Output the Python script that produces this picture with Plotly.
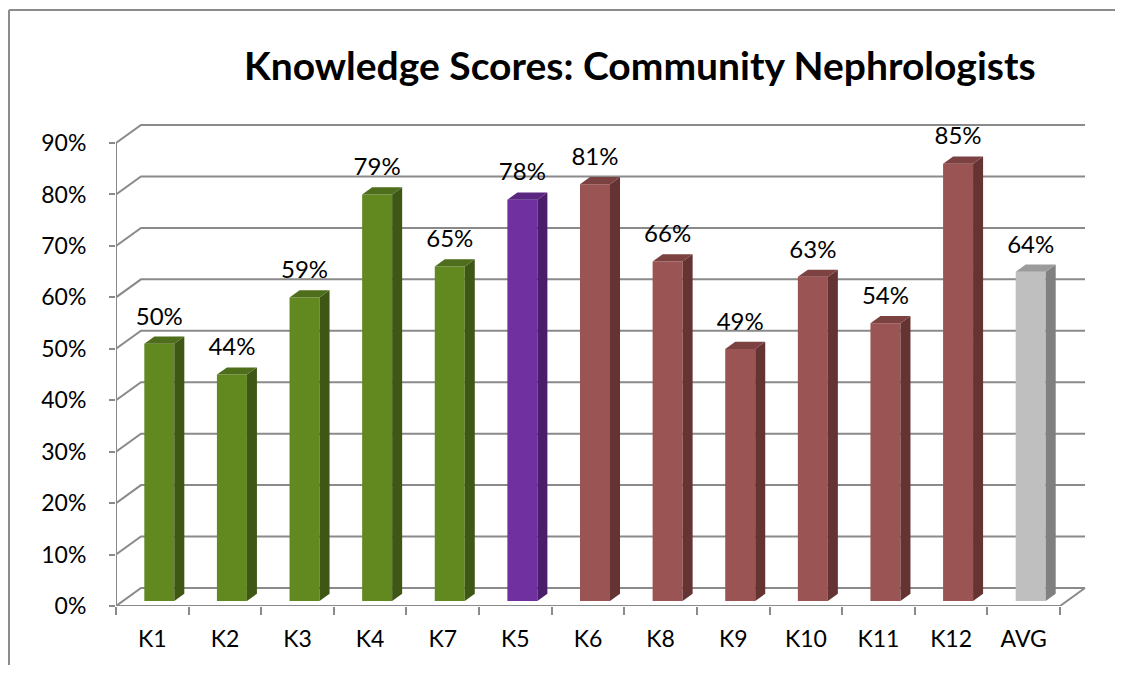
import plotly.graph_objects as go

categories = ["K1", "K2", "K3", "K4", "K7", "K5", "K6", "K8", "K9", "K10", "K11", "K12", "AVG"]
values = [50, 44, 59, 79, 65, 78, 81, 66, 49, 63, 54, 85, 64]
groups = ["g", "g", "g", "g", "g", "p", "r", "r", "r", "r", "r", "r", "a"]
label_text = ["50%", "44%", "59%", "79%", "65%", "78%", "81%", "66%", "49%", "63%", "54%", "85%", "64%"]
y_ticks = [0, 10, 20, 30, 40, 50, 60, 70, 80, 90]
y_ticktext = ["0%", "10%", "20%", "30%", "40%", "50%", "60%", "70%", "80%", "90%"]

front_colors = {"g": "#628920", "p": "#7030A0", "r": "#9A5454", "a": "#BFBFBF"}
top_colors = {"g": "#4F6E1B", "p": "#5A2682", "r": "#7C4141", "a": "#9B9B9B"}
side_colors = {"g": "#3E5715", "p": "#4A1E6A", "r": "#663333", "a": "#808080"}

# 3-D geometry (data units)
DX = 0.344      # depth offset of back wall (categories)
DY = 3.5        # depth offset of back wall (%)
F = 0.28        # depth position of bar front face
BW = 0.413      # bar front width
SDX = 0.138     # bar side depth x
SDY = 1.4       # bar side depth y
GRID = "#8A8A8A"

n = len(categories)
fig = go.Figure()

# gridlines as below-layer shapes
shapes = []
for v in y_ticks:
    shapes.append(dict(type="path", xref="x", yref="y", layer="below",
                       path=f"M 0 {v} L {DX} {v + DY} L {n + DX} {v + DY}",
                       line=dict(color=GRID, width=2)))
shapes.append(dict(type="path", xref="x", yref="y", layer="below",
                   path=f"M 0 0 L {n} 0 L {n + DX} {DY}", line=dict(color=GRID, width=2)))
shapes.append(dict(type="line", xref="x", yref="y", layer="below",
                   x0=0, x1=0, y0=0, y1=y_ticks[-1], line=dict(color=GRID, width=2)))

# bars
for gkey in ["g", "p", "r", "a"]:
    idx = [i for i in range(n) if groups[i] == gkey]
    xc = [i + 0.5 + DX * F for i in idx]
    base = F * DY
    fig.add_trace(go.Bar(x=xc, y=[values[i] for i in idx], base=base, width=BW,
                         marker=dict(color=front_colors[gkey], line=dict(width=0)),
                         showlegend=False, hoverinfo="skip"))
    sx, sy, tx, ty = [], [], [], []
    for i in idx:
        x0 = i + 0.5 + DX * F - BW / 2
        x1 = x0 + BW
        top = values[i] + base
        sx += [x1, x1 + SDX, x1 + SDX, x1, x1, None]
        sy += [base, base + SDY, top + SDY, top, base, None]
        tx += [x0, x1, x1 + SDX, x0 + SDX, x0, None]
        ty += [top, top, top + SDY, top + SDY, top, None]
    fig.add_trace(go.Scatter(x=sx, y=sy, mode="lines", fill="toself", fillcolor=side_colors[gkey],
                             line=dict(width=0, color=side_colors[gkey]), hoverinfo="skip", showlegend=False))
    fig.add_trace(go.Scatter(x=tx, y=ty, mode="lines", fill="toself", fillcolor=top_colors[gkey],
                             line=dict(width=0, color=top_colors[gkey]), hoverinfo="skip", showlegend=False))

# data labels
fig.add_trace(go.Scatter(x=[i + 0.5 + DX * F for i in range(n)],
                         y=[values[i] + F * DY + 4.9 for i in range(n)],
                         mode="text", text=label_text, textposition="middle center",
                         textfont=dict(family="Lato", size=24, color="#000000"),
                         hoverinfo="skip", showlegend=False))

# category tick marks (on xaxis2)
fig.add_trace(go.Scatter(x=[0, n], y=[0, 0], mode="lines", line=dict(width=0),
                         xaxis="x2", hoverinfo="skip", showlegend=False))

OFF = 8  # page body margin (all sides)
W, H = 1123 - 2 * OFF, 673 - 2 * OFF
L = 116 - OFF
T = 115 - OFF
B = (673 - OFF) - 606
R = (1123 - OFF) - 1090
PW, PH = W - L - R, H - T - B
xmax = PW / ((1060 - 116) / n)
ymax = PH / ((606 - 143) / 90)

def px(xr):
    return (xr - 116) / PW

def py(yr):
    return (606 - yr) / PH

shapes += [dict(type="line", xref="paper", yref="paper",
                x0=px(9), x1=px(9), y0=py(10), y1=py(700),
                line=dict(color="#8C8C8C", width=2)),
           dict(type="line", xref="paper", yref="paper",
                x0=px(9), x1=px(1140), y0=py(10), y1=py(10),
                line=dict(color="#8C8C8C", width=2))]

fig.update_layout(
    width=W, height=H,
    margin=dict(l=L, r=R, t=T, b=B, autoexpand=False),
    paper_bgcolor="white", plot_bgcolor="rgba(0,0,0,0)",
    barmode="overlay",
    font=dict(family="Lato", color="#000000"),
    xaxis=dict(range=[0, xmax], tickvals=[i + 0.5 for i in range(n)], ticktext=categories,
               showgrid=False, zeroline=False, showline=False, ticks="",
               tickfont=dict(size=23, family="Lato"), ticklabelstandoff=17),
    xaxis2=dict(range=[0, xmax], overlaying="x", anchor="y", side="bottom",
                tickvals=list(range(n + 1)), showticklabels=False, ticks="outside",
                ticklen=8, tickcolor=GRID, tickwidth=2, showgrid=False, zeroline=False, showline=False),
    yaxis=dict(range=[0, ymax], tickvals=y_ticks, ticktext=y_ticktext, showgrid=False,
               zeroline=False, showline=False, ticks="outside", ticklen=6, tickcolor=GRID,
               tickwidth=2, tickfont=dict(size=23, family="Lato"), ticklabelstandoff=18),
    annotations=[dict(text="<b>Knowledge Scores: Community Nephrologists</b>",
                      xref="paper", yref="paper",
                      x=px(640), y=py(65),
                      xanchor="center", yanchor="middle", showarrow=False,
                      font=dict(family="Lato", size=39, color="#000000"))],
    shapes=shapes,
)

fig.write_html("out.html")
